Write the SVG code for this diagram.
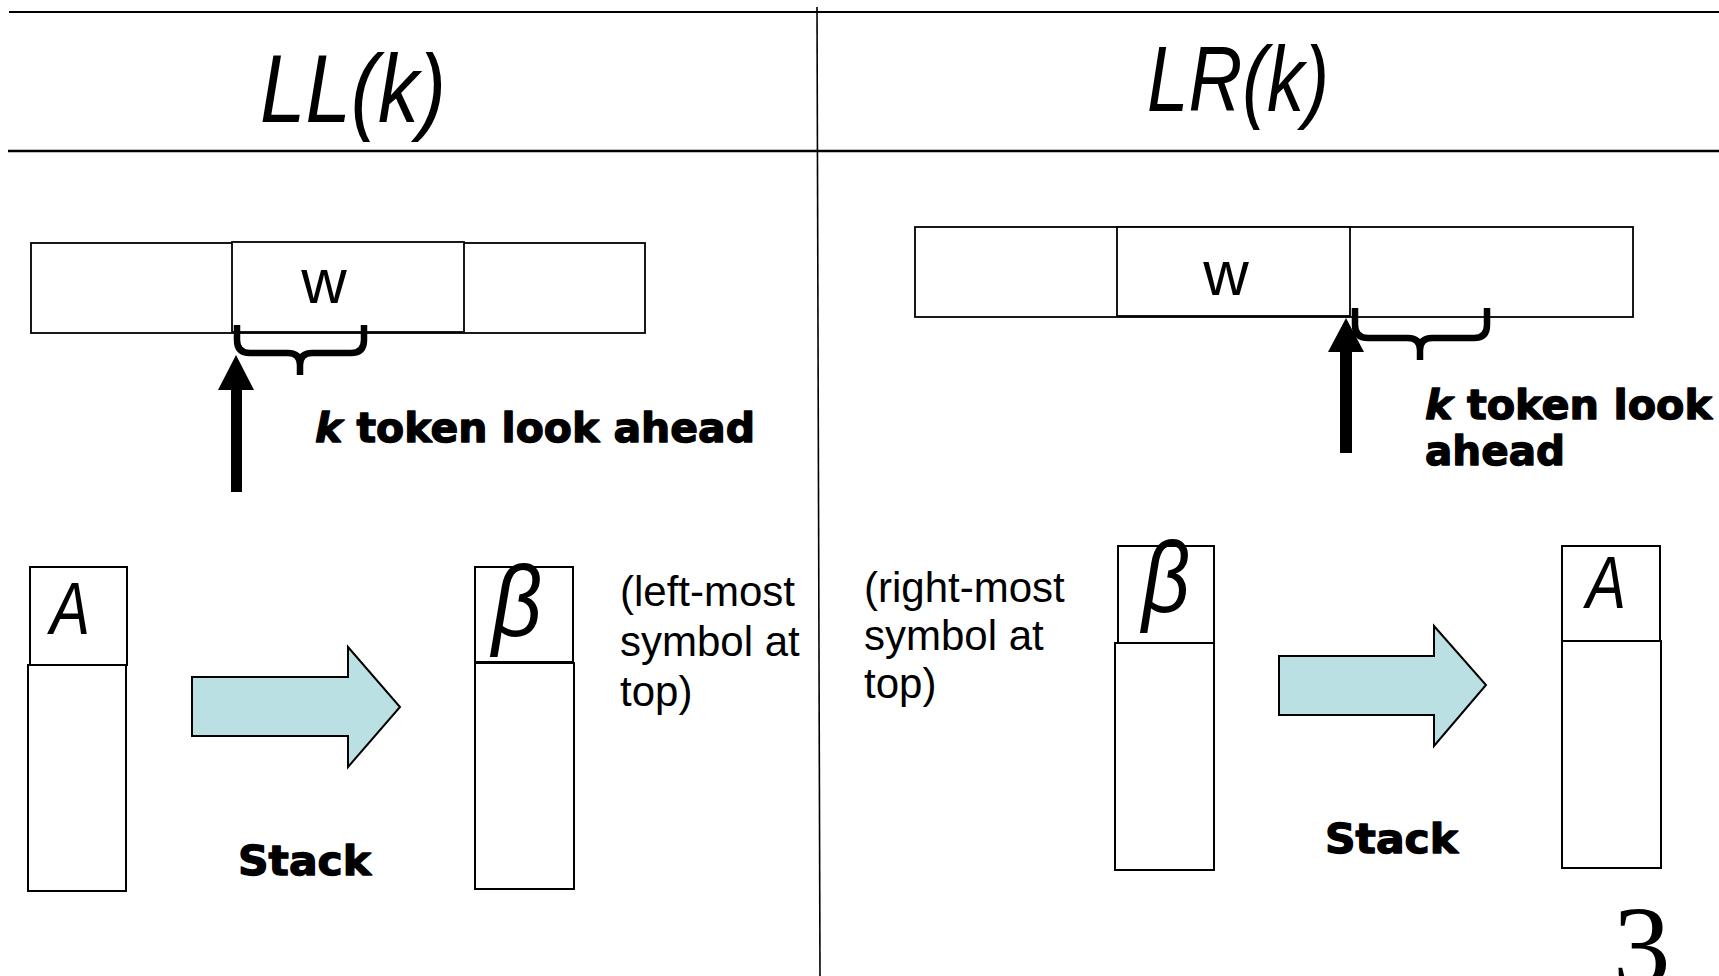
<svg xmlns="http://www.w3.org/2000/svg" width="1719" height="976" viewBox="0 0 1719 976">
  <style>
    .rule { stroke: #000; fill: none; }
    .cell { fill: #fff; stroke: #000; stroke-width: 1.8; }
    .slot { fill: #fff; stroke: #000; stroke-width: 2; }
    .brace { fill: none; stroke: #000; stroke-width: 6.5; stroke-linecap: butt; stroke-linejoin: round; }
    .pointer { fill: #000; stroke: none; }
    .push { fill: #bae0e3; stroke: #000; stroke-width: 2; stroke-linejoin: miter; }
    .title { font-family: "Liberation Sans", Arial, sans-serif; font-style: italic; fill: #000; }
    .sym { font-family: "Liberation Sans", Arial, sans-serif; font-style: italic; fill: #000; }
    .plain { font-family: "Liberation Sans", Arial, sans-serif; font-size: 42px; fill: #000; }
    .tape { font-family: "Liberation Sans", Arial, sans-serif; font-size: 63px; fill: #000; }
    .heavy { font-family: "DejaVu Sans", "Liberation Sans", sans-serif; font-weight: bold; font-size: 40px; fill: #000; stroke: #000; stroke-width: 1.3; stroke-linejoin: round; }
    .page { font-family: "Liberation Serif", "Times New Roman", serif; font-size: 115px; fill: #000; }
  </style>

  <!-- table rules -->
  <g id="rules">
    <line class="rule" x1="9" y1="12" x2="1719" y2="12" stroke-width="2.2"/>
    <line class="rule" x1="8" y1="151" x2="1719" y2="151" stroke-width="2.6"/>
    <line class="rule" x1="817" y1="7" x2="820" y2="976" stroke-width="1.6"/>
  </g>

  <!-- column headings -->
  <g id="title-ll">
    <text class="title" x="260" y="122" font-size="96" textLength="186" lengthAdjust="spacingAndGlyphs">LL(k)</text>
  </g>
  <g id="title-lr">
    <text class="title" x="1147" y="111" font-size="93" textLength="182" lengthAdjust="spacingAndGlyphs">LR(k)</text>
  </g>

  <!-- LL(k): input tape -->
  <g id="ll-tape">
    <rect class="cell" x="31" y="243" width="614" height="90"/>
    <rect class="cell" x="232" y="242" width="232" height="90"/>
    <text class="tape" x="324" y="303" text-anchor="middle">w</text>
  </g>

  <!-- LR(k): input tape -->
  <g id="lr-tape">
    <rect class="cell" x="915" y="227" width="718" height="90"/>
    <rect class="cell" x="1117" y="227" width="233" height="89"/>
    <text class="tape" x="1226" y="295" text-anchor="middle">w</text>
  </g>

  <!-- look-ahead braces and input pointers -->
  <g id="connectors">
    <path class="brace" d="M237,325 L237,340 Q237,353 250,353 L288,353 Q300,353 300,365 L300,375 M300,365 Q300,353 312,353 L351,353 Q364,353 364,340 L364,325"/>
    <path class="brace" d="M1355,308 L1355,325 Q1355,338 1368,338 L1408,338 Q1420,338 1420,350 L1420,360 M1420,350 Q1420,338 1432,338 L1474,338 Q1487,338 1487,325 L1487,308"/>
    <polygon class="pointer" points="236,355 254,390 242,390 242,492 231,492 231,390 218,390"/>
    <polygon class="pointer" points="1346,318 1364,352 1352,352 1352,453 1340,453 1340,352 1328,352"/>
  </g>

  <!-- look-ahead labels -->
  <g id="ll-lookahead">
    <text class="heavy" x="315" y="442" textLength="440" lengthAdjust="spacingAndGlyphs"><tspan font-style="italic">k</tspan> token look ahead</text>
  </g>
  <g id="lr-lookahead">
    <text class="heavy" x="1425" y="419" textLength="287" lengthAdjust="spacingAndGlyphs"><tspan font-style="italic">k</tspan> token look</text>
    <text class="heavy" x="1425" y="465" textLength="140" lengthAdjust="spacingAndGlyphs">ahead</text>
  </g>

  <!-- LL(k): stack before -->
  <g id="ll-stack-a">
    <rect class="slot" x="30" y="567" width="97" height="98"/>
    <rect class="slot" x="28" y="665" width="98" height="226"/>
    <text class="sym" x="50" y="634" font-size="75" textLength="40" lengthAdjust="spacingAndGlyphs">A</text>
  </g>

  <!-- LL(k): push arrow -->
  <g id="ll-push">
    <polygon class="push" points="192,677 348,677 348,647 400,707 348,767 348,736 192,736"/>
    <text class="heavy" x="238" y="875" textLength="133" lengthAdjust="spacingAndGlyphs">Stack</text>
  </g>

  <!-- LL(k): stack after -->
  <g id="ll-stack-beta">
    <rect class="slot" x="475" y="567" width="98" height="95"/>
    <rect class="slot" x="475" y="663" width="99" height="226"/>
    <text class="sym" x="492" y="636" font-size="100" textLength="50" lengthAdjust="spacingAndGlyphs">β</text>
  </g>

  <g id="ll-note">
    <text class="plain" x="620" y="606">(left-most</text>
    <text class="plain" x="620" y="656">symbol at</text>
    <text class="plain" x="620" y="706">top)</text>
  </g>

  <!-- LR(k) -->
  <g id="lr-note">
    <text class="plain" x="864" y="602">(right-most</text>
    <text class="plain" x="864" y="650">symbol at</text>
    <text class="plain" x="864" y="698">top)</text>
  </g>

  <g id="lr-stack-beta">
    <rect class="slot" x="1118" y="546" width="96" height="97"/>
    <rect class="slot" x="1115" y="643" width="99" height="227"/>
    <text class="sym" x="1142" y="612" font-size="100" textLength="48" lengthAdjust="spacingAndGlyphs">β</text>
  </g>

  <g id="lr-push">
    <polygon class="push" points="1279,656 1434,656 1434,626 1486,685 1434,746 1434,715 1279,715"/>
    <text class="heavy" x="1325" y="853" textLength="133" lengthAdjust="spacingAndGlyphs">Stack</text>
  </g>

  <g id="lr-stack-a">
    <rect class="slot" x="1562" y="546" width="98" height="95"/>
    <rect class="slot" x="1562" y="641" width="99" height="227"/>
    <text class="sym" x="1586" y="608" font-size="75" textLength="40" lengthAdjust="spacingAndGlyphs">A</text>
  </g>

  <!-- page number -->
  <g id="page-number">
    <text class="page" x="1613" y="985">3</text>
  </g>
</svg>
